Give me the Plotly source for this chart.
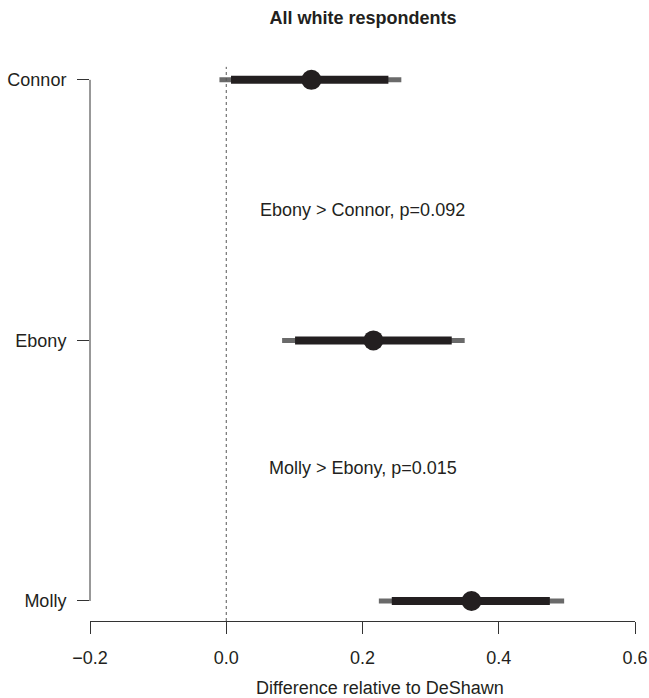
import plotly.graph_objects as go

names = ["Connor", "Ebony", "Molly"]
estimate = [0.125, 0.216, 0.360]
thick_low = [0.007, 0.101, 0.243]
thick_high = [0.238, 0.331, 0.475]
thin_low = [-0.010, 0.082, 0.224]
thin_high = [0.257, 0.350, 0.496]
ypos = [0, 1, 2]
notes = ["Ebony > Connor, p=0.092", "Molly > Ebony, p=0.015"]
note_x = [0.2, 0.2]
note_y = [0.5, 1.49]
xticks = [-0.2, 0.0, 0.2, 0.4, 0.6]
x_title = "Difference relative to DeShawn"

FONT = "Liberation Sans, Arial, Helvetica, sans-serif"
fig = go.Figure()

for i in range(len(names)):
    fig.add_trace(go.Scatter(x=[thin_low[i], thin_high[i]], y=[ypos[i], ypos[i]], mode="lines",
                             line=dict(color="#6a6a6a", width=5), showlegend=False, hoverinfo="skip"))
for i in range(len(names)):
    fig.add_trace(go.Scatter(x=[thick_low[i], thick_high[i]], y=[ypos[i], ypos[i]], mode="lines",
                             line=dict(color="#231f20", width=8), showlegend=False, hoverinfo="skip"))
fig.add_trace(go.Scatter(x=estimate, y=ypos, mode="markers",
                         marker=dict(color="#231f20", size=20, line=dict(width=0)), showlegend=False))

for t, x, y in zip(notes, note_x, note_y):
    fig.add_annotation(x=x, y=y, text=t, showarrow=False, xref="x", yref="y",
                       font=dict(family=FONT, size=18, color="#231f20"))

# x axis title (placed as in the reference)
fig.add_annotation(x=(380 - 90) / 545, y=0, xref="paper", yref="paper", yshift=-67,
                   xanchor="center", yanchor="middle", text=x_title, showarrow=False,
                   font=dict(family=FONT, size=18, color="#231f20"))

# dotted zero line
fig.add_shape(type="line", xref="x", yref="y domain", x0=0, x1=0, y0=0, y1=0.986,
              line=dict(color="#555555", width=1, dash="dot"))
# y axis line (R style, spanning categories only)
fig.add_shape(type="line", xref="x domain", yref="y", x0=0, x1=0, y0=0, y1=2,
              line=dict(color="#333333", width=1))

fig.update_layout(
    width=649, height=698,
    margin=dict(l=90, r=14, t=59, b=77),
    paper_bgcolor="white", plot_bgcolor="white",
    title=dict(text="<b>All white respondents</b>", x=363 / 649,
               xanchor="center", y=1 - 18 / 698, yanchor="middle",
               font=dict(family=FONT, size=18, color="#231f20")),
    xaxis=dict(range=[-0.2, 0.6], tickvals=xticks, tickformat=".1f", automargin=False,
               showgrid=False, zeroline=False, showline=True, linecolor="#333333", linewidth=1,
               ticks="outside", ticklen=12, tickcolor="#333333", ticklabelstandoff=8,
               tickfont=dict(family=FONT, size=18, color="#231f20")),
    yaxis=dict(range=[2.0768, -0.08], tickvals=ypos, ticktext=names, automargin=False,
               showgrid=False, zeroline=False, showline=False,
               ticks="outside", ticklen=12, tickcolor="#333333", ticklabelstandoff=7,
               tickfont=dict(family=FONT, size=18, color="#231f20")),
)

fig.write_html("out.html", config={"displayModeBar": False},
               post_script="document.body.style.margin='0';")
